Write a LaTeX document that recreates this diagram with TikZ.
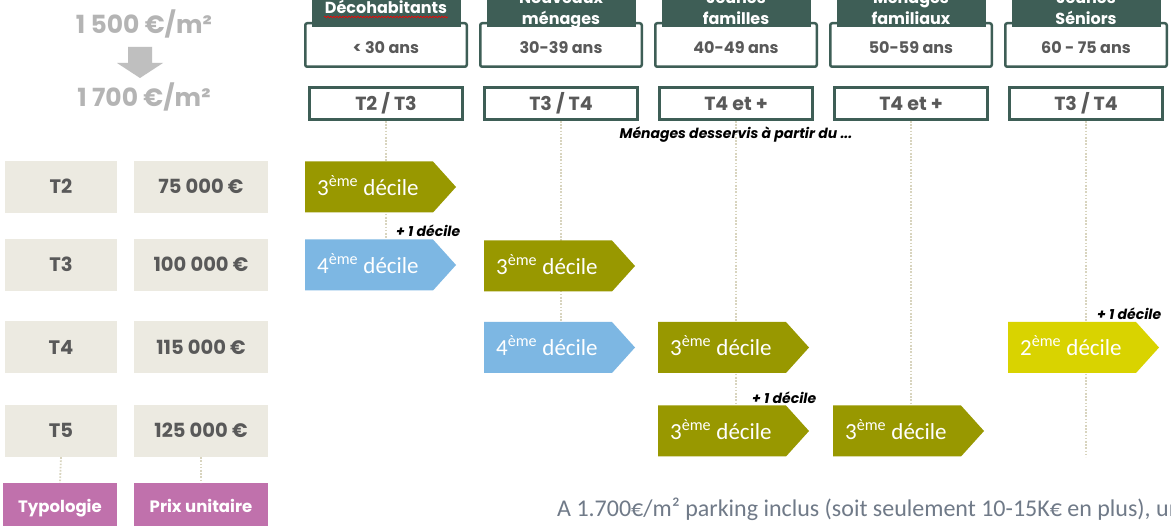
\documentclass[tikz,border=0pt]{standalone}
\usepackage{fontspec}
\setmainfont{Carlito}
\newfontfamily\mont{Poppins}
\usetikzlibrary{decorations.pathmorphing}
\definecolor{dkgreen}{RGB}{62,94,86}
\definecolor{olive}{RGB}{152,152,0}
\definecolor{skyblue}{RGB}{125,183,227}
\definecolor{lemon}{RGB}{217,211,0}
\definecolor{beige}{RGB}{236,234,225}
\definecolor{pinkish}{RGB}{192,113,172}
\definecolor{dotcol}{RGB}{216,212,190}
\definecolor{pricegray}{RGB}{180,180,180}
\definecolor{txtgray}{RGB}{89,89,89}
\definecolor{notegray}{RGB}{112,122,136}
\tikzset{
  price/.style={font=\mont\bfseries\fontsize{25}{28}\selectfont, text=pricegray, inner sep=0, anchor=base},
  cell/.style={fill=beige, minimum height=52, inner sep=0, text=txtgray,
    font=\mont\bfseries\fontsize{19.5}{22}\selectfont, text height=13.6pt, text depth=0pt},
  pinkcell/.style={fill=pinkish, minimum height=48, inner sep=0, text=white,
    font=\mont\bfseries\fontsize{16.5}{19}\selectfont, text height=11.5pt, text depth=0pt},
  agebox/.style={draw=dkgreen, line width=2.5, rounded corners=2, minimum width=161.5, minimum height=43.5, inner sep=0},
  agetext/.style={font=\mont\bfseries\fontsize{16}{18}\selectfont, text=txtgray, inner sep=0, anchor=base},
  tab/.style={fill=dkgreen, minimum width=149, minimum height=60, inner sep=0, anchor=south},
  tabtext/.style={font=\mont\bfseries\fontsize{16}{18}\selectfont, text=white, inner sep=0, anchor=base},
  typebox/.style={draw=dkgreen, line width=3, minimum width=153, minimum height=32, inner sep=0, text=txtgray,
    font=\mont\bfseries\fontsize{19}{22}\selectfont, text height=13.3pt, text depth=0pt},
  dotline/.style={draw=dotcol, line width=1.8, dash pattern=on 1.6pt off 1.6pt},
  dectext/.style={font=\fontsize{23}{25}\selectfont, text=white, inner sep=0, anchor=west, text height=14.5pt, text depth=0pt},
  plus/.style={font=\mont\bfseries\itshape\fontsize{14}{16}\selectfont, text=black, inner sep=0, anchor=base west},
}
\newcommand\decarrow[5]{%
  \fill[#4] (#2,#3-25.5) -- (#2+128,#3-25.5) -- (#2+151,#3) -- (#2+128,#3+25.5) -- (#2,#3+25.5) -- cycle;
  \node[dectext] (#1) at (#2+12,#3+1) {#5\textsuperscript{ème} décile};}
\begin{document}
\begin{tikzpicture}[x=1pt,y=-1pt]
\useasboundingbox (0,0) rectangle (1171,526);
\clip (0,0) rectangle (1171,526);
\fill[white] (0,0) rectangle (1171,526);
% prices per m2
\node[price] (p1) at (144,33.5) {1 500 €/m²};
\node[price] (p2) at (144,106.5) {1 700 €/m²};
\fill[pricegray!85] (128,47) -- (152,47) -- (152,63) -- (163,63) -- (140,78) -- (117,63) -- (128,63) -- cycle;
% left table
\foreach \n/\t/\p/\y in {2/T2/75 000 €/187, 3/T3/100 000 €/265, 4/T4/115 000 €/347.5, 5/T5/125 000 €/431}{
  \node[cell, minimum width=112] (t\n) at (61,\y) {\t};
  \node[cell, minimum width=134] (v\n) at (201,\y) {\p};
}
\node[pinkcell, minimum width=114] (typo) at (60,507) {Typologie};
\node[pinkcell, minimum width=134] (prix) at (201,507) {Prix unitaire};
\draw[dotline] (t5.south) -- (typo.north);
\draw[dotline] (v5.south) -- (prix.north);
% columns
\foreach \i/\c/\a/\ty in {1/386/{< 30 ans}/{T2 / T3},
  2/561/{30-39 ans}/{T3 / T4},
  3/736/{40-49 ans}/{T4 et +},
  4/911/{50-59 ans}/{T4 et +},
  5/1086/{60 - 75 ans}/{T3 / T4}}{
  \node[agebox] (age\i) at (\c,45) {};
  \node[agetext] (agt\i) at (\c,54) {\a};
  \node[tab] (tab\i) at (\c,27) {};
  \node[typebox] (ty\i) at (\c,103.5) {\ty};
}
\node[tabtext] (h1) at (386,13.5) {Décohabitants};
\draw[red, line width=0.6, decorate, decoration={snake, amplitude=0.8, segment length=3}] (324,17) -- (448,17);
\node[tabtext] (h2a) at (561,4) {Nouveaux};
\node[tabtext] (h2b) at (561,25) {ménages};
\node[tabtext] (h3a) at (736,4) {Jeunes};
\node[tabtext] (h3b) at (736,25) {familles};
\node[tabtext] (h4a) at (911,4) {Ménages};
\node[tabtext] (h4b) at (911,25) {familiaux};
\node[tabtext] (h5a) at (1086,4) {Jeunes};
\node[tabtext] (h5b) at (1086,25) {Séniors};
% vertical dotted guides
\coordinate (e1) at (386,239);
\coordinate (e2) at (561,322);
\coordinate (e3) at (736,405);
\coordinate (e4) at (911,405);
\coordinate (e5) at (1086,457);
\foreach \i in {1,...,5}{\draw[dotline] (ty\i.south) -- (e\i);}
\node[font=\mont\bfseries\itshape\fontsize{14}{16}\selectfont, inner sep=0, anchor=base] (note) at (736,139) {Ménages desservis à partir du ...};
% decile arrows
\decarrow{d12}{305}{187}{olive}{3}
\decarrow{d21}{305}{265}{skyblue}{4}
\decarrow{d22}{484}{266}{olive}{3}
\decarrow{d32}{484}{347.5}{skyblue}{4}
\decarrow{d33}{658}{347.5}{olive}{3}
\decarrow{d35}{1008}{347.5}{lemon}{2}
\decarrow{d43}{658}{431}{olive}{3}
\decarrow{d44}{833}{431}{olive}{3}
\node[plus] (pl1) at (396,237) {+ 1 décile};
\node[plus] (pl2) at (1097,320) {+ 1 décile};
\node[plus] (pl3) at (752,404) {+ 1 décile};
% footnote
\node[font=\fontsize{24}{27}\selectfont, text=notegray, inner sep=0, anchor=base west] (foot) at (557,517) {A 1.700€/m² parking inclus (soit seulement 10-15K€ en plus), un};
\end{tikzpicture}
\end{document}
